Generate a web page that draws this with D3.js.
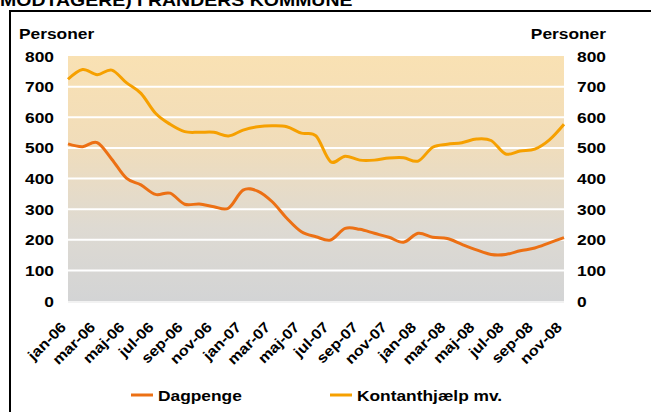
<!DOCTYPE html>
<html><head><meta charset="utf-8">
<script src="https://cdnjs.cloudflare.com/ajax/libs/d3/7.8.5/d3.min.js"></script>
<style>
html,body{margin:0;padding:0;background:#fff;overflow:hidden;}
svg{display:block;}
text{font-family:"Liberation Sans",Arial,sans-serif;font-weight:bold;fill:#000;}
</style></head><body>
<svg id="chart" width="651" height="412"></svg>
<script>
const monthNames = ["jan","feb","mar","apr","maj","jun","jul","aug","sep","okt","nov","dec"];
const years = ["06","07","08"];
const categories = [];
years.forEach(y => monthNames.forEach(m => categories.push(m + "-" + y)));
categories.length = 35; // jan-06 .. nov-08

const dagpenge = [513,504,517,463,401,379,348,352,316,317,308,303,362,359,324,270,226,210,199,237,234,221,208,192,221,208,204,185,167,152,152,164,173,190,207];
const kontanthjaelp = [724,756,739,754,713,678,613,577,553,551,551,539,558,569,572,569,548,539,455,473,460,460,467,468,457,502,512,517,529,524,480,490,496,526,577];
const yTicks = [0,100,200,300,400,500,600,700,800];
const seriesNames = ["Dagpenge","Kontanthjælp mv."];
const seriesColors = ["#EC7014","#F6A000"];
const titleText = "MODTAGERE) I RANDERS KOMMUNE";
const axisTitle = "Personer";

const svg = d3.select("#chart");
const SX = 1.12;
function txt(parent, x, y, s, size, anchor, rot) {
  const g = parent.append("g").attr("transform", `translate(${x},${y})` + (rot ? ` rotate(${rot})` : "") + ` scale(${SX},1)`);
  return g.append("text").attr("text-anchor", anchor || "start").style("font-size", size + "px").text(s);
}

const L = 68, R = 564, T = 56, B = 301;
const x = d3.scalePoint().domain(categories).range([L, R]);
const y = d3.scaleLinear().domain([0, 800]).range([B, T]);

// frame
svg.append("rect").attr("x", 10).attr("y", 11).attr("width", 700).attr("height", 500)
  .attr("fill", "none").attr("stroke", "#000").attr("stroke-width", 2);

// title (cut off at top)
txt(svg, 0, 6, titleText, 17.4, "start");

// background gradient
const defs = svg.append("defs");
const grad = defs.append("linearGradient").attr("id", "bg").attr("x1", 0).attr("y1", 0).attr("x2", 0).attr("y2", 1);
grad.append("stop").attr("offset", "0%").attr("stop-color", "#F9E1B3");
grad.append("stop").attr("offset", "35%").attr("stop-color", "#F1DDBA");
grad.append("stop").attr("offset", "70%").attr("stop-color", "#DEDAD2");
grad.append("stop").attr("offset", "100%").attr("stop-color", "#D3D4D5");
svg.append("rect").attr("x", L).attr("y", T).attr("width", R - L).attr("height", B - T).attr("fill", "url(#bg)");

// gridlines
svg.append("g").selectAll("line").data(yTicks.filter(d => d > 0 && d < 800)).join("line")
  .attr("x1", L).attr("x2", R).attr("y1", d => y(d)).attr("y2", d => y(d))
  .attr("stroke", "#fff").attr("stroke-width", 2);
svg.append("line").attr("x1", L).attr("x2", R).attr("y1", B + 1).attr("y2", B + 1)
  .attr("stroke", "#F2F2F2").attr("stroke-width", 2);

// y tick labels
yTicks.forEach(t => {
  txt(svg, 54, y(t) + 5.5, String(t), 15.5, "end");
  txt(svg, 577, y(t) + 5.5, String(t), 15.5, "start");
});
txt(svg, 19, 38.5, axisTitle, 15.5, "start");
txt(svg, 606, 38.5, axisTitle, 15.5, "end");

// x tick labels
categories.forEach((c, i) => {
  if (i % 2 === 0) txt(svg, x(c) - 1, 328, c, 14.5, "end", -45);
});

// lines
const line = d3.line().x((d, i) => x(categories[i])).y(d => y(d)).curve(d3.curveCardinal.tension(0));
[dagpenge, kontanthjaelp].forEach((s, k) => {
  svg.append("path").datum(s).attr("d", line).attr("fill", "none")
    .attr("stroke", seriesColors[k]).attr("stroke-width", 3).attr("stroke-linejoin", "round");
});

// legend
const legX = [131, 330];
seriesNames.forEach((n, k) => {
  svg.append("line").attr("x1", legX[k]).attr("x2", legX[k] + 22).attr("y1", 395).attr("y2", 395)
    .attr("stroke", seriesColors[k]).attr("stroke-width", 3);
  txt(svg, legX[k] + 27, 400.5, n, 15.5, "start");
});
</script>
</body></html>
